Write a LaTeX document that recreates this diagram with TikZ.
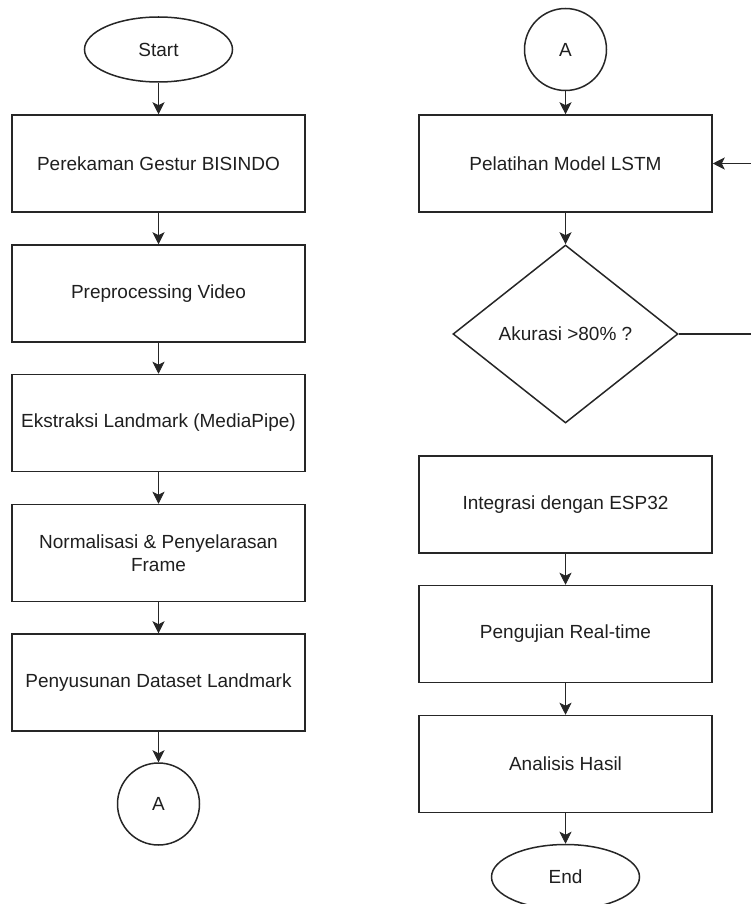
\documentclass[tikz,border=0pt]{standalone}
\usepackage{fontspec}
\setmainfont{Liberation Sans}
\usetikzlibrary{shapes.geometric,arrows.meta}
\begin{document}
\begin{tikzpicture}[x=1pt,y=-1pt,
  every node/.style={font=\fontsize{19}{23}\selectfont, text=black!88, line width=1.5pt, draw=black!85, inner sep=0pt},
  procbox/.style={rectangle, minimum width=293pt, minimum height=97pt, align=center},
  term/.style={ellipse, minimum width=148pt, minimum height=65pt},
  conn/.style={circle, minimum size=82pt},
  decis/.style={diamond, minimum width=225pt, minimum height=178pt},
  flow/.style={line width=1.5pt, draw=black!85, -{Stealth[length=12pt,width=12pt,inset=3pt,fill=black!85,line width=0.8pt]}},
  plain/.style={line width=1.5pt, draw=black!85}]
\useasboundingbox (0,0) rectangle (750,904);
% left column
\node[term] (start) at (158.5,49.5) {Start};
\node[procbox] (p1) at (158.5,163.5) {Perekaman Gestur BISINDO};
\node[procbox] (p2) at (158.5,293.5) {Preprocessing Video};
\node[procbox] (p3) at (158.5,423) {Ekstraksi Landmark (MediaPipe)};
\node[procbox] (p4) at (158.5,553) {Normalisasi \& Penyelarasan\\Frame};
\node[procbox] (p5) at (158.5,682.5) {Penyusunan Dataset Landmark};
\node[conn] (a1) at (158.5,804) {A};
\draw[flow] (start) -- (p1);
\draw[flow] (p1) -- (p2);
\draw[flow] (p2) -- (p3);
\draw[flow] (p3) -- (p4);
\draw[flow] (p4) -- (p5);
\draw[flow] (p5) -- (a1);
% right column
\node[conn] (a2) at (565.5,49.5) {A};
\node[procbox] (q1) at (565.5,163.5) {Pelatihan Model LSTM};
\node[decis] (d1) at (565.5,334) {Akurasi >80\% ?};
\node[procbox] (q2) at (565.5,504.5) {Integrasi dengan ESP32};
\node[procbox] (q3) at (565.5,634) {Pengujian Real-time};
\node[procbox] (q4) at (565.5,764) {Analisis Hasil};
\node[term] (end) at (565.5,877) {End};
\draw[flow] (a2) -- (q1);
\draw[flow] (q1) -- (d1);
\draw[flow] (q2) -- (q3);
\draw[flow] (q3) -- (q4);
\draw[flow] (q4) -- (end);
\coordinate (loopA) at (753,334);
\coordinate (loopB) at (753,163.5);
\draw[plain] (d1.east) -- (loopA) -- (loopB);
\draw[flow] (loopB) -- (q1.east);
\end{tikzpicture}
\end{document}
